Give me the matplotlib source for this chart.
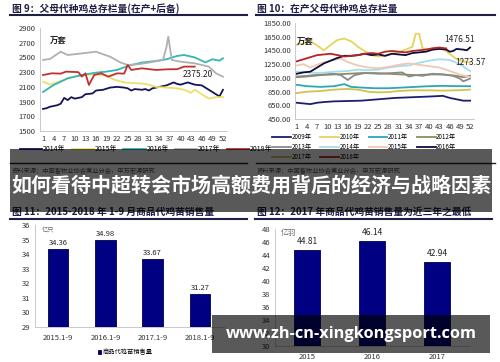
import matplotlib
matplotlib.use("Agg")
import matplotlib.pyplot as plt
from matplotlib.patches import Rectangle
from matplotlib.lines import Line2D

plt.rcParams["font.family"] = ["Noto Sans CJK SC", "DejaVu Sans"]

W, H = 500, 362

# ---- data: panel 9 (父母代种鸡总存栏量) ----
years9 = ["2014年", "2015年", "2016年", "2017年", "2018年"]
colors9 = ["#14145a", "#ece06a", "#35b5b5", "#b0b0b0", "#c23030"]
w14 = [1, 2, 3, 5, 6, 7, 8, 9, 10, 12, 13, 15, 16, 18, 20, 22, 24, 25, 26, 27, 29, 30, 31, 32, 34, 36, 38, 39, 40, 42, 44, 46, 47, 49, 51, 52]
v14 = [1800, 1810, 1830, 1850, 1870, 1950, 1920, 1960, 1940, 1960, 2000, 2010, 2050, 2060, 2090, 2100, 2090, 2080, 2050, 2070, 2060, 2070, 2050, 2080, 2100, 2120, 2160, 2140, 2130, 2160, 2130, 2120, 2090, 2030, 1970, 2060]
w15 = [1, 3, 6, 9, 12, 16, 19, 21, 24, 27, 30, 33, 36, 39, 41, 43, 44, 46, 48, 50, 52]
v15 = [2170, 2130, 2180, 2230, 2260, 2270, 2250, 2200, 2160, 2150, 2140, 2100, 2090, 2080, 2060, 2020, 2060, 2000, 1940, 1960, 1960]
w16 = [1, 4, 8, 12, 16, 19, 22, 25, 29, 33, 36, 39, 41, 44, 47, 49, 51, 52]
v16 = [2030, 2125, 2216, 2261, 2293, 2307, 2330, 2384, 2430, 2452, 2475, 2520, 2533, 2500, 2433, 2475, 2456, 2488]
w17 = [1, 3, 6, 8, 12, 16, 17, 20, 23, 25, 28, 31, 35, 36, 36.5, 37.5, 40, 44, 48, 50, 52]
v17 = [2465, 2480, 2578, 2533, 2555, 2578, 2560, 2510, 2430, 2398, 2407, 2430, 2465, 2646, 2782, 2465, 2442, 2420, 2375, 2284, 2239]
w18 = [1, 3.5, 6, 7.5, 11, 12, 13, 14, 15.5, 17.5, 19.5, 22, 24, 25, 26, 29, 33, 36.5, 39, 41, 44]
v18 = [2261, 2284, 2280, 2307, 2300, 2239, 2284, 2126, 2261, 2284, 2239, 2284, 2280, 2397, 2330, 2352, 2330, 2339, 2340, 2375, 2375.2]
weeks9 = [w14, w15, w16, w17, w18]
vals9 = [v14, v15, v16, v17, v18]
yticks9 = [1500, 1700, 1900, 2100, 2300, 2500, 2700, 2900]
xticks_w = list(range(1, 53, 3))

# ---- data: panel 10 (在产父母代种鸡总存栏量) ----
years10 = ["2009年", "2010年", "2011年", "2012年", "2013年", "2014年", "2015年", "2016年", "2017年", "2018年"]
colors10 = ["#1e1e6e", "#e6d45a", "#2aa8b4", "#8c8c5c", "#8a8a8a", "#a6dcec", "#f2c8b4", "#0c0c3c", "#d2c24e", "#b42424"]
w09 = [1, 3, 5, 7, 9, 12, 20, 25, 30, 35, 40, 44, 46, 48, 50, 52]
v09 = [690, 680, 670, 690, 700, 710, 720, 740, 760, 770, 780, 790, 760, 740, 720, 720]
w10 = [1, 3, 5, 7, 9, 11, 13, 15, 17, 19, 21, 23, 25, 27, 29, 31, 33, 35, 36, 37, 38, 40, 42, 44, 46, 48, 50, 52]
v10 = [1530, 1550, 1580, 1520, 1450, 1530, 1600, 1620, 1580, 1500, 1440, 1380, 1360, 1370, 1400, 1420, 1460, 1500, 1690, 1690, 1480, 1460, 1470, 1470, 1400, 1320, 1290, 1273.57]
w11 = [1, 4, 8, 12, 15, 17, 20, 24, 28, 32, 36, 40, 44, 48, 52]
v11 = [950, 930, 920, 930, 960, 920, 910, 900, 900, 910, 920, 930, 935, 930, 930]
w12 = [1, 4, 8, 12, 16, 20, 24, 28, 32, 36, 40, 44, 48, 50, 52]
v12 = [1060, 1070, 1090, 1100, 1110, 1120, 1120, 1110, 1100, 1090, 1100, 1100, 1080, 1060, 1080]
w13 = [1, 4, 8, 12, 14, 16, 18, 21, 25, 29, 32, 34, 36, 38, 41, 44, 47, 49, 50, 52]
v13 = [1070, 1080, 1100, 1110, 1090, 1020, 1090, 1120, 1110, 1120, 1130, 1070, 1090, 1080, 1110, 1100, 1080, 1040, 1000, 1040]
w14b = [1, 4, 8, 12, 16, 19, 22, 25, 28, 31, 34, 37, 40, 43, 46, 49, 51, 52]
v14b = [1140, 1130, 1120, 1140, 1150, 1170, 1160, 1170, 1200, 1220, 1230, 1270, 1300, 1320, 1310, 1250, 1180, 1150]
w15b = [1, 3, 5, 8, 11, 14, 16, 19, 22, 25, 28, 31, 34, 37, 40, 43, 46, 49, 52]
v15b = [1230, 1250, 1200, 1260, 1300, 1330, 1280, 1230, 1200, 1190, 1210, 1240, 1260, 1240, 1220, 1200, 1150, 1100, 1060]
w16b = [1, 3, 5, 7, 9, 11, 13, 15, 17, 19, 21, 23, 25, 27, 29, 31, 33, 35, 37, 39, 41, 43, 45, 46, 47, 48, 50, 51, 52]
v16b = [1110, 1130, 1140, 1200, 1260, 1300, 1340, 1370, 1370, 1380, 1400, 1380, 1390, 1370, 1400, 1390, 1380, 1410, 1420, 1430, 1460, 1470, 1460, 1430, 1440, 1470, 1460, 1450, 1490]
w17b = [1, 4, 8, 12, 16, 19, 22, 25, 28, 31, 35, 40, 44, 48, 52]
v17b = [830, 850, 860, 880, 890, 880, 850, 840, 845, 860, 870, 870, 865, 870, 880]
w18b = [1, 3, 5, 7, 9, 11, 13, 15, 17, 19, 21, 23, 25, 27, 29, 31, 33, 35, 37, 39, 41, 43, 45]
v18b = [1290, 1320, 1350, 1380, 1390, 1400, 1380, 1360, 1370, 1380, 1400, 1410, 1400, 1430, 1440, 1430, 1420, 1440, 1450, 1460, 1480, 1490, 1476.51]
weeks10 = [w09, w10, w11, w12, w13, w14b, w15b, w16b, w17b, w18b]
vals10 = [v09, v10, v11, v12, v13, v14b, v15b, v16b, v17b, v18b]
yticks10 = [450, 650, 850, 1050, 1250, 1450, 1650, 1850]

# ---- data: panel 11 / 12 (商品代鸡苗销售量) ----
cats11 = ["2015.1-9", "2016.1-9", "2017.1-9", "2018.1-9"]
vals11 = [34.36, 34.98, 33.67, 31.27]
cats12 = ["2015", "2016", "2017"]
vals12 = [44.81, 46.14, 42.94]

TITLE_C = "#1e1e46"
GRID_C = "#c0c0c0"
TICK_C = "#333333"
source = "资料来源：中国畜牧业协会禽业分会，申万宏源研究"

fig = plt.figure(figsize=(W / 100, H / 100), dpi=100)
fig.patch.set_facecolor("white")


def px_axes(x0, y0, x1, y1):
    return fig.add_axes([x0 / W, 1 - y1 / H, (x1 - x0) / W, (y1 - y0) / H])


def fx(x):
    return x / W


def fy(y):
    return 1 - y / H


def hline(x0, x1, y, lw=1.5, color=TITLE_C):
    fig.add_artist(Line2D([fx(x0), fx(x1)], [fy(y), fy(y)], transform=fig.transFigure,
                          color=color, lw=lw))


def style_axes(ax):
    for s in ["top", "right"]:
        ax.spines[s].set_visible(False)
    for s in ["left", "bottom"]:
        ax.spines[s].set_color(GRID_C)
        ax.spines[s].set_linewidth(0.6)
    ax.tick_params(length=0, labelsize=5.5, colors=TICK_C, pad=3)


# panel titles and rules
fig.text(fx(12), fy(9), "图 9：父母代种鸡总存栏量(在产+后备)", fontsize=7, fontweight="bold",
         color=TITLE_C, va="center")
hline(10, 247, 15)
fig.text(fx(257), fy(9), "图 10：在产父母代种鸡总存栏量", fontsize=7, fontweight="bold",
         color=TITLE_C, va="center")
hline(256, 495, 15)
fig.text(fx(12), fy(212), "图 11：2015-2018 年 1-9 月商品代鸡苗销售量", fontsize=7, fontweight="bold",
         color=TITLE_C, va="center")
hline(10, 247, 219)
fig.text(fx(257), fy(212), "图 12：2017 年商品代鸡苗销售量为近三年之最低", fontsize=7, fontweight="bold",
         color=TITLE_C, va="center")
hline(255, 492, 219)
hline(10, 247, 163, lw=1.0, color="#222222")
hline(256, 495, 163, lw=1.0, color="#222222")
fig.text(fx(12), fy(171), source, fontsize=4.5, color="#555555", va="center")
fig.text(fx(257), fy(171), source, fontsize=4.5, color="#555555", va="center")

# ---- panel 9 ----
ax1 = px_axes(39.5, 28, 226.5, 131)
for w, v, c, lab in zip(weeks9, vals9, colors9, years9):
    ax1.plot(w, v, color=c, lw=1.3, label=lab)
ax1.set_xlim(0, 53)
ax1.set_ylim(1500, 2900)
ax1.set_yticks(yticks9)
ax1.set_xticks(xticks_w)
style_axes(ax1)
ax1.text(3, 2720, "万套", fontsize=6, fontweight="bold", color="#222222", va="center")
ax1.text(44.9, 2262, "2375.20", fontsize=6, color="#222222", ha="center", va="center")
ax1.legend(loc="center left", bbox_to_anchor=(fx(20), fy(149)), bbox_transform=fig.transFigure,
           ncol=5, fontsize=5, frameon=False, handlelength=3.2, handletextpad=0.1,
           columnspacing=0.9, borderaxespad=0, borderpad=0)

# ---- panel 10 ----
ax2 = px_axes(295, 22.7, 473.5, 119.3)
for w, v, c, lab in zip(weeks10, vals10, colors10, years10):
    ax2.plot(w, v, color=c, lw=1.3, label=lab)
ax2.set_xlim(0.5, 53)
ax2.set_ylim(450, 1850)
ax2.set_yticks(yticks10)
ax2.set_yticklabels(["%.2f" % t for t in yticks10])
ax2.set_xticks(xticks_w)
style_axes(ax2)
ax2.text(1, 1560, "万套", fontsize=6, fontweight="bold", color="#222222", va="center")
ax2.text(49, 1610, "1476.51", fontsize=6, color="#222222", ha="center", va="center")
ax2.text(47.5, 1272, "1273.57", fontsize=6, color="#222222", ha="left", va="center")
order = [0, 4, 8, 1, 5, 9, 2, 6, 3, 7]
hs, ls = ax2.get_legend_handles_labels()
ax2.legend([hs[i] for i in order], [ls[i] for i in order], loc="center left",
           bbox_to_anchor=(fx(272), fy(147)), bbox_transform=fig.transFigure,
           ncol=4, fontsize=4.5, frameon=False, handlelength=3.0, handletextpad=0.1,
           columnspacing=1.4, labelspacing=0.3, borderaxespad=0, borderpad=0)

# ---- panel 11 ----
ax3 = px_axes(34.5, 225, 223.5, 327)
ax3.bar(range(len(cats11)), [v - 29 for v in vals11], bottom=29, width=0.43,
        color="#000082", edgecolor="#00004a", lw=0.6, label="商品代鸡苗销售量")
for i, v in enumerate(vals11):
    ax3.text(i, v + 0.15, "%.2f" % v, ha="center", va="bottom", fontsize=5.5, color="#222222")
ax3.set_xlim(-0.5, len(cats11) - 0.5)
ax3.set_ylim(29, 36)
ax3.set_yticks(range(29, 37))
ax3.set_xticks(range(len(cats11)))
ax3.set_xticklabels(cats11)
style_axes(ax3)
ax3.tick_params(axis="x", pad=5)
ax3.text(0.04, 0.96, "亿只", transform=ax3.transAxes, fontsize=4.5, color="#666666", va="center")
ax3.legend(loc="center", bbox_to_anchor=(fx(125), fy(352)), bbox_transform=fig.transFigure,
           fontsize=4.5, frameon=False, handlelength=0.6, handleheight=0.6, handletextpad=0.2,
           borderaxespad=0, borderpad=0)

# ---- panel 12 ----
ax4 = px_axes(274.5, 229, 469.5, 345.7)
ax4.bar(range(len(cats12)), [v - 30 for v in vals12], bottom=30, width=0.385,
        color="#000082", edgecolor="#00004a", lw=0.6)
for i, v in enumerate(vals12):
    ax4.text(i, v + 0.6, "%.2f" % v, ha="center", va="bottom", fontsize=6, color="#222222")
ax4.set_xlim(-0.5, len(cats12) - 0.5)
ax4.set_ylim(30, 48)
ax4.set_yticks(range(30, 49, 2))
ax4.set_xticks(range(len(cats12)))
ax4.set_xticklabels(cats12)
style_axes(ax4)
ax4.tick_params(axis="x", pad=5)
ax4.text(0.03, 0.97, "亿羽", transform=ax4.transAxes, fontsize=5.5, color="#666666", va="center")

# ---- overlay banners ----
fig.add_artist(Rectangle((fx(10), fy(212)), fx(492) - fx(10), fy(149) - fy(212),
                         transform=fig.transFigure, facecolor="black", alpha=0.65,
                         edgecolor="none", zorder=10))
fig.text(fx(251), fy(185), "如何看待中超转会市场高额费用背后的经济与战略因素", fontsize=14.4,
         fontweight="bold", color="white", ha="center", va="center", zorder=11)
fig.add_artist(Rectangle((fx(212), fy(353)), fx(490) - fx(212), fy(315) - fy(353),
                         transform=fig.transFigure, facecolor="black", alpha=0.65,
                         edgecolor="none", zorder=10))
fig.text(fx(351), fy(334), "www.zh-cn-xingkongsport.com", fontsize=11.8, fontweight="bold",
         family=["Open Sans", "DejaVu Sans"], color="white", ha="center", va="center", zorder=11)

fig.savefig("out.png", dpi=100)
